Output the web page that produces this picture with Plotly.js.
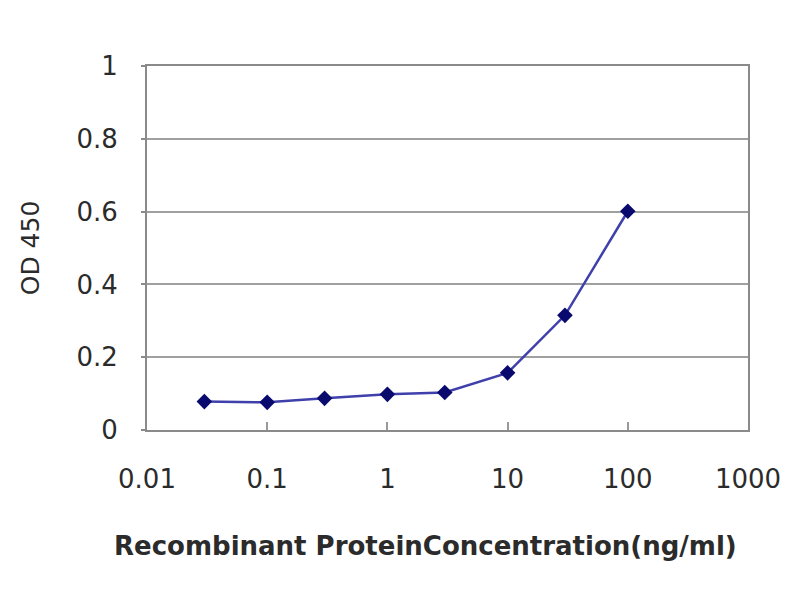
<!DOCTYPE html>
<html>
<head>
<meta charset="utf-8">
<script src="https://cdn.plot.ly/plotly-3.0.1.min.js"></script>
<style>
  html, body { margin: 0; padding: 0; background: #ffffff; }
  #chart { width: 800px; height: 600px; }
</style>
</head>
<body>
<div id="chart"></div>
<script>

// values
var concentration = [0.03, 0.1, 0.3, 1, 3, 10, 30, 100];
var od450 = [0.078, 0.076, 0.087, 0.098, 0.103, 0.157, 0.315, 0.601];

var xTickVals = [0.01, 0.1, 1, 10, 100, 1000];
var xTickText = ['0.01', '0.1', '1', '10', '100', '1000'];
var yTickVals = [0, 0.2, 0.4, 0.6, 0.8, 1];
var yTickText = ['0', '0.2', '0.4', '0.6', '0.8', '1'];

var xTitle = 'Recombinant ProteinConcentration(ng/ml)';
var yTitle = 'OD 450';

var FONT = 'DejaVu Sans, Arial, sans-serif';
var TEXT_COLOR = '#2b2b2b';

var traces = [{
	x: concentration,
	y: od450,
	type: 'scatter',
	mode: 'lines+markers',
	line: {color: '#4040ac', width: 2.5},
	marker: {color: '#0a0a6e', symbol: 'diamond', size: 12},
	hoverinfo: 'none'
}];

var layout = {
	width: 800, height: 600,
	margin: {l: 147, r: 52, t: 66, b: 170},
	paper_bgcolor: '#ffffff',
	plot_bgcolor: '#ffffff',
	showlegend: false,
	font: {family: FONT, color: TEXT_COLOR, size: 26},
	xaxis: {
		type: 'log',
		range: [-2, 3],
		tickvals: xTickVals,
		ticktext: xTickText,
		ticks: 'inside',
		ticklen: 8,
		tickcolor: '#999999',
		tickwidth: 2,
		ticklabelstandoff: 25,
		showgrid: false,
		showline: true,
		linecolor: '#8a8a8a',
		linewidth: 2,
		mirror: true,
		zeroline: false,
		tickfont: {family: FONT, size: 26, color: TEXT_COLOR}
	},
	yaxis: {
		range: [0, 1],
		tickvals: yTickVals,
		ticktext: yTickText,
		ticks: 'outside',
		ticklen: 4,
		tickcolor: '#8a8a8a',
		tickwidth: 2,
		ticklabelstandoff: 18,
		showgrid: true,
		gridcolor: '#a0a0a0',
		gridwidth: 2,
		showline: true,
		linecolor: '#8a8a8a',
		linewidth: 2,
		mirror: true,
		zeroline: false,
		tickfont: {family: FONT, size: 26, color: TEXT_COLOR},
		title: {text: yTitle, font: {family: FONT, size: 25, color: TEXT_COLOR}, standoff: 30}
	},
	annotations: [{
		text: '<b>' + xTitle + '</b>',
		xref: 'paper', yref: 'paper',
		x: (425 - 147) / 601, y: -0.32,
		xanchor: 'center', yanchor: 'middle',
		showarrow: false,
		font: {family: FONT, size: 26, color: TEXT_COLOR}
	}]
};

Plotly.newPlot('chart', traces, layout, {displayModeBar: false, staticPlot: true});

</script>
</body>
</html>
